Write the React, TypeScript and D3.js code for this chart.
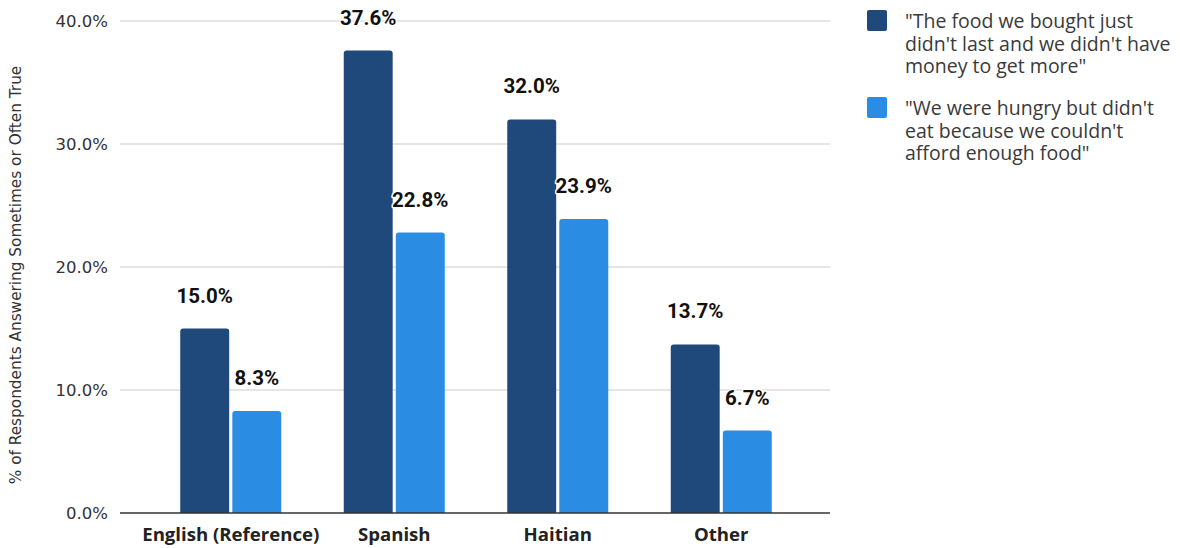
import React from 'react';
import * as d3 from 'd3';

const categories = ['English (Reference)', 'Spanish', 'Haitian', 'Other'];
const seriesNames = [
  ['"The food we bought just', "didn't last and we didn't have", 'money to get more"'],
  ['"We were hungry but didn\'t', "eat because we couldn't", 'afford enough food"'],
];
const foodDidntLast = [15.0, 37.6, 32.0, 13.7];
const hungryDidntEat = [8.3, 22.8, 23.9, 6.7];
const yTicks = [0, 10, 20, 30, 40];
const colors = ['#1f487b', '#2a8de3'];

const W = 1180;
const H = 548;

// rounded-top bar path
const barPath = (x: number, y: number, w: number, h: number, r: number) =>
  `M${x},${y + h}V${y + r}Q${x},${y} ${x + r},${y}H${x + w - r}Q${x + w},${y} ${x + w},${y + r}V${y + h}Z`;

const App: React.FC = () => {
  const y = d3.scaleLinear().domain([0, 40]).range([513, 21]);
  const x0 = d3.scaleBand<string>().domain(categories).range([149, 803]);
  const groupW = 101;
  const x1 = d3.scaleBand<number>().domain([0, 1]).range([0, groupW]).paddingInner(0.06);
  const series = [foodDidntLast, hungryDidntEat];
  const fmt = (v: number) => v.toFixed(1) + '%';

  return (
    <svg width={W} height={H} style={{ position: 'absolute', left: 0, top: 0, background: '#fff' }}>
      {/* gridlines + ticks */}
      {yTicks.map(t => (
        <g key={t}>
          {t > 0 && <line x1={120} x2={830} y1={y(t)} y2={y(t)} stroke="#cccccc" strokeWidth={1.2} />}
          <text x={108} y={y(t)} dy="0.36em" textAnchor="end" fontFamily="DejaVu Sans" fontSize={16.5} fill="#333">
            {t.toFixed(1) + '%'}
          </text>
        </g>
      ))}

      <text
        transform={`translate(21,${(21 + 513) / 2 + 8}) rotate(-90)`}
        textAnchor="middle"
        fontFamily="DejaVu Sans"
        fontSize={15.3}
        fill="#333"
      >
        % of Respondents Answering Sometimes or Often True
      </text>

      {/* bars */}
      {categories.map((c, i) => {
        const gx = (x0(c) as number) + (x0.bandwidth() - groupW) / 2;
        return (
          <g key={c}>
            {series.map((s, si) => {
              const bx = gx + (x1(si) as number);
              const by = y(s[i]);
              return (
                <path key={si} d={barPath(bx, by, x1.bandwidth(), y(0) - by, 3)} fill={colors[si]} />
              );
            })}
          </g>
        );
      })}

      {/* baseline */}
      <line x1={120} x2={830} y1={y(0)} y2={y(0)} stroke="#333" strokeWidth={1.5} />

      {/* data labels */}
      {categories.map((c, i) => {
        const gx = (x0(c) as number) + (x0.bandwidth() - groupW) / 2;
        return series.map((s, si) => {
          const cx = gx + (x1(si) as number) + x1.bandwidth() / 2;
          return (
            <text
              key={c + si}
              x={cx}
              y={y(s[i]) - 26}
              textAnchor="middle"
              fontFamily="Roboto"
              fontWeight="bold"
              fontSize={20.5}
              fill="#111"
              stroke="#fff"
              strokeWidth={3}
              strokeLinejoin="round"
              paintOrder="stroke"
            >
              {fmt(s[i])}
            </text>
          );
        });
      })}

      {/* category labels */}
      {categories.map(c => (
        <text
          key={c}
          x={(x0(c) as number) + x0.bandwidth() / 2}
          y={541}
          textAnchor="middle"
          fontFamily="Open Sans"
          fontWeight="bold"
          fontSize={18.6}
          fill="#222"
        >
          {c}
        </text>
      ))}

      {/* legend */}
      {seriesNames.map((lines, si) => (
        <g key={si} transform={`translate(867,${10 + si * 87})`}>
          <rect x={0} y={0} width={20} height={21} rx={2} fill={colors[si]} />
          {lines.map((l, li) => (
            <text key={li} x={38} y={18 + li * 22.5} fontFamily="Open Sans" fontSize={19.5} fill="#3a3a3a">
              {l}
            </text>
          ))}
        </g>
      ))}
    </svg>
  );
};

export default App;
